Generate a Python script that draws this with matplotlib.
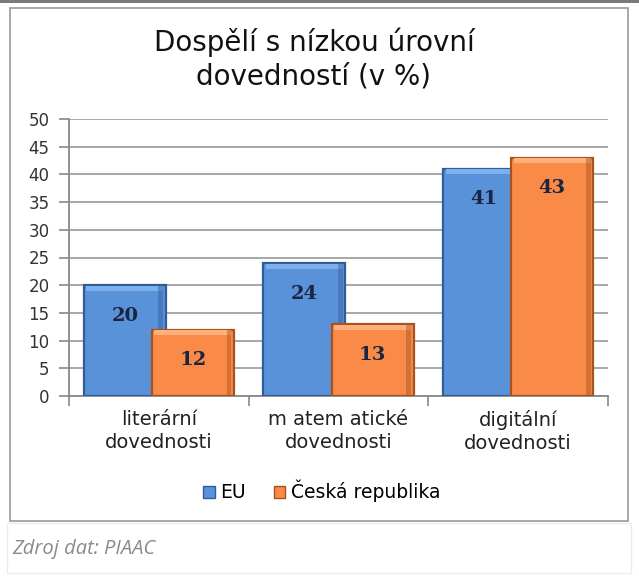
import matplotlib
matplotlib.use("Agg")
import matplotlib.pyplot as plt
from matplotlib.patches import Rectangle, Patch
import numpy as np

categories = ["literární\ndovednosti", "m atem atické\ndovednosti", "digitální\ndovednosti"]
series_names = ["EU", "Česká republika"]
eu_values = [20, 24, 41]
cz_values = [12, 13, 43]
y_ticks = [0, 5, 10, 15, 20, 25, 30, 35, 40, 45, 50]

W, H = 639, 585
fig = plt.figure(figsize=(W / 100, H / 100), dpi=100)
fig.patch.set_facecolor("white")

# outer frame
fig.patches.append(Rectangle((10 / W, 1 - 521 / H), 618 / W, 513 / H, transform=fig.transFigure,
                             fill=False, edgecolor="#9a9a9a", linewidth=1.2))
# caption box
fig.patches.append(Rectangle((7 / W, 1 - 573 / H), 624 / W, 50 / H, transform=fig.transFigure,
                             fill=False, edgecolor="#ececec", linewidth=1.0))
# top dark line
fig.patches.append(Rectangle((0, 1 - 3 / H), 1, 3 / H, transform=fig.transFigure,
                             facecolor="#7a7a7a", edgecolor="none"))

ax = fig.add_axes([69 / W, 1 - 396 / H, (608 - 69) / W, (396 - 119) / H])
ax.set_facecolor("white")

x = np.arange(len(categories))
bw = 0.456
off = 0.19
blue = "#5a92da"
blue_light = "#7fb0ee"
blue_edge = "#2f5d9a"
orange = "#f98a48"
orange_light = "#ffb07a"
orange_edge = "#a6531f"


def draw_series(xpos, vals, face, light, edge, z):
    bars = ax.bar(xpos, vals, width=bw, color=face, edgecolor=edge, linewidth=1.6, zorder=z)
    # bevel highlight along the top of each bar
    ax.bar(xpos, [0.9] * len(vals), bottom=[v - 1.0 for v in vals], width=bw * 0.94,
           color=light, edgecolor="none", zorder=z + 0.1)
    # darker shade along the right side
    ax.bar(xpos + bw * 0.44, [v - 0.2 for v in vals], width=bw * 0.06, bottom=0.1,
           color=edge, alpha=0.45, edgecolor="none", zorder=z + 0.1)
    return bars


b1 = draw_series(x - off, eu_values, blue, blue_light, blue_edge, 3)
b2 = draw_series(x + off, cz_values, orange, orange_light, orange_edge, 4)

for bars, vals in ((b1, eu_values), (b2, cz_values)):
    for rect, v in zip(bars, vals):
        ax.annotate(str(v), xy=(rect.get_x() + rect.get_width() / 2, v), xytext=(0, -22),
                    textcoords="offset points", ha="center", va="center",
                    fontsize=14, fontweight="bold", family="DejaVu Serif", color="#1a2540", zorder=6)

ax.set_xlim(-0.5, 2.5)
ax.set_ylim(0, 50)
ax.set_yticks(y_ticks)
ax.set_yticklabels([str(t) for t in y_ticks], fontsize=12, color="#333333")
ax.yaxis.grid(True, color="#a0a0a0", linewidth=1.3, zorder=0)
ax.set_axisbelow(True)
ax.set_xticks([-0.5, 0.5, 1.5, 2.5], minor=False)
ax.set_xticklabels([])
ax.set_xticks(x, minor=True)
ax.set_xticklabels(categories, minor=True, fontsize=14, color="#222222", linespacing=1.3)
ax.tick_params(axis="x", which="minor", length=0, pad=10)
ax.tick_params(axis="x", which="major", length=7, color="#888888", width=1.2)
ax.tick_params(axis="y", length=7, color="#888888", width=1.2, pad=7)
for s in ("top", "right"):
    ax.spines[s].set_visible(False)
for s in ("left", "bottom"):
    ax.spines[s].set_color("#888888")
    ax.spines[s].set_linewidth(1.3)

fig.text(314 / W, 1 - 59 / H, "Dospělí s nízkou úrovní\ndovedností (v %)", ha="center", va="center",
         fontsize=20, color="#111111", linespacing=1.25)

handles = [Patch(facecolor=blue, edgecolor=blue_edge), Patch(facecolor=orange, edgecolor=orange_edge)]
fig.legend(handles, series_names, loc="center", bbox_to_anchor=(322 / W, 1 - 491 / H), ncol=2,
           frameon=False, fontsize=13.5, handlelength=0.6, handleheight=0.6, handletextpad=0.3,
           columnspacing=1.5)

fig.text(12 / W, 1 - 549 / H, "Zdroj dat: PIAAC", ha="left", va="center", fontsize=14.5,
         style="italic", family="Open Sans", color="#8a8a8a")

fig.savefig("out.png", dpi=100, facecolor="white")
